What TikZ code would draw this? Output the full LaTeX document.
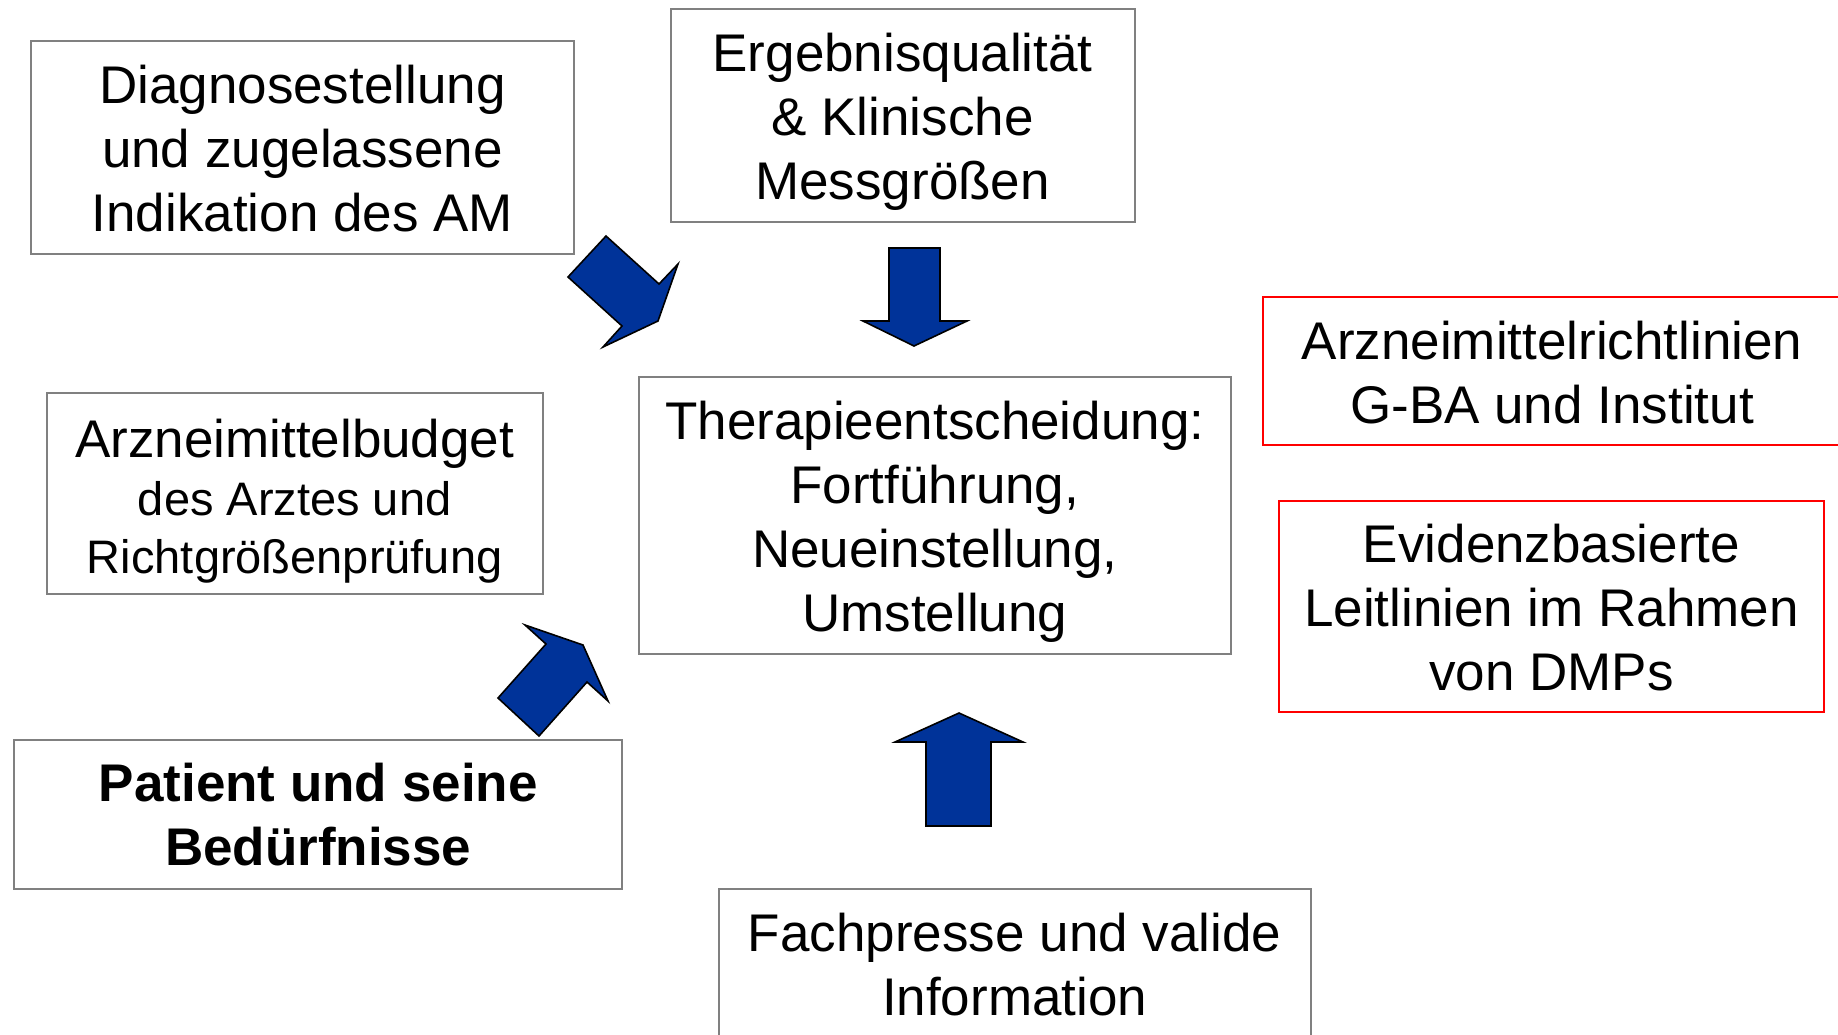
\documentclass[tikz,border=0pt]{standalone}
\usepackage{fontspec}
\setmainfont{Liberation Sans}
\definecolor{boxgray}{RGB}{128,128,128}
\definecolor{arrowblue}{RGB}{0,51,153}
\definecolor{boxred}{RGB}{255,0,0}
\tikzset{
  graybox/.style={draw=boxgray, line width=2pt},
  redbox/.style={draw=boxred, line width=2pt},
  txt/.style={align=center, inner sep=0pt, font=\fontsize{53}{64}\selectfont},
  blockarrow/.style={fill=arrowblue, draw=black, line width=1.6pt, line join=miter}
}
\begin{document}
\begin{tikzpicture}[x=1pt,y=-1pt]
\useasboundingbox (0,0) rectangle (1838,1034);
\clip (0,0) rectangle (1838,1034);
\fill[white] (0,0) rectangle (1838,1034);
% boxes
\draw[graybox] (30.5,41) rectangle (574.4,254.4);
\node[txt] (diag) at (302.4,148.5) {Diagnosestellung\\und zugelassene\\Indikation des AM};
\draw[graybox] (670.5,9.4) rectangle (1134.7,221.5);
\node[txt] (erg) at (902.6,121.5) {Ergebnisqualität\\\& Klinische\\Messgrößen};
\draw[redbox] (1262.5,296.6) rectangle (1845,445.4);
\node[txt] (amr) at (1552,373) {Arzneimittelrichtlinien\\G-BA und Institut};
\draw[redbox] (1279,500.5) rectangle (1824,711.5);
\node[txt] (evi) at (1551.5,608) {Evidenzbasierte\\Leitlinien im Rahmen\\von DMPs};
\draw[graybox] (46.8,393) rectangle (542.7,593.5);
\node[align=center, inner sep=0pt, font=\fontsize{47}{58}\selectfont] (budget) at (294.7,501) {{\fontsize{53}{58}\selectfont Arzneimittelbudget}\\des Arztes und\\Richtgrößenprüfung};
\draw[graybox] (638.9,377.4) rectangle (1230.8,654.1);
\node[txt] (ther) at (934.8,521.5) {Therapieentscheidung:\\Fortführung,\\Neueinstellung,\\Umstellung};
\draw[graybox] (14,739.7) rectangle (622.4,888.5);
\node[txt, font=\fontsize{53}{64}\selectfont\bfseries] (pat) at (318.2,815) {Patient und seine\\Bedürfnisse};
\draw[graybox] (718.6,888.5) rectangle (1310.6,1041);
\node[txt] (fach) at (1014.6,965) {Fachpresse und valide\\Information};
% block arrows
\draw[blockarrow] (606,236) -- (659,284) -- (678,264) -- (658,321) -- (603,347) -- (622,326) -- (568,277) -- cycle;
\draw[blockarrow] (889,248) -- (940,248) -- (940,321) -- (967,321) -- (914,346) -- (863,321) -- (889,321) -- cycle;
\draw[blockarrow] (525,625) -- (546,644) -- (498,698) -- (539,736) -- (587,682) -- (608,701) -- (583,645) -- cycle;
\draw[blockarrow] (959,713) -- (1023,742) -- (991,742) -- (991,826) -- (926,826) -- (926,742) -- (895,742) -- cycle;
\end{tikzpicture}
\end{document}
